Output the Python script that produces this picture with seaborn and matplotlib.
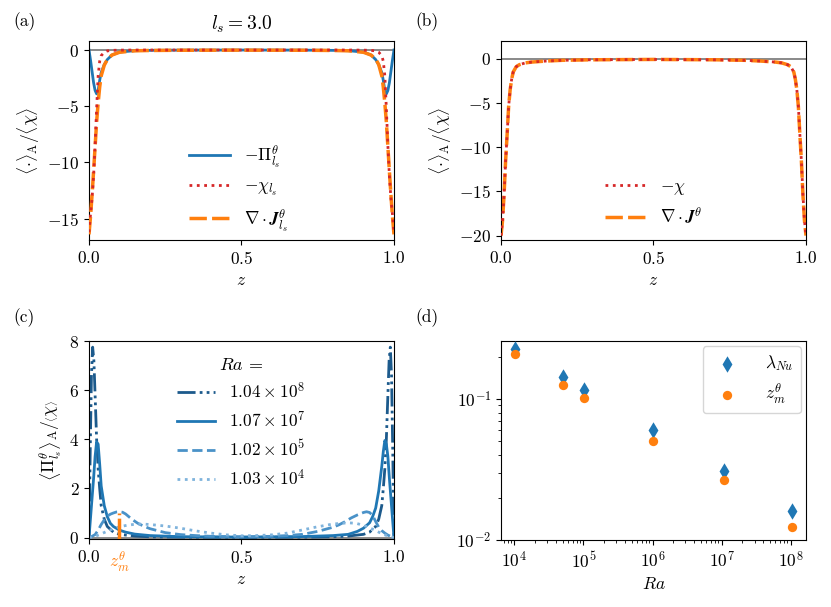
import matplotlib
matplotlib.use("Agg")
import matplotlib.pyplot as plt
import seaborn as sns

plt.rcParams.update({
    "font.family": "serif",
    "font.serif": ["cmr10"],
    "mathtext.fontset": "cm",
    "axes.formatter.use_mathtext": True,
    "font.size": 12.5,
    "axes.unicode_minus": True,
})

# ---- panel (a): l_s = 3.0 profiles ----
za = [0, 0.005, 0.01, 0.015, 0.02, 0.025, 0.03, 0.035, 0.04, 0.05, 0.06, 0.075, 0.1,
      0.15, 0.2, 0.3, 0.5, 0.7, 0.8, 0.85, 0.9, 0.925, 0.94, 0.95, 0.96, 0.965, 0.97,
      0.975, 0.98, 0.985, 0.99, 0.995, 1.0]
pi_ls = [0, -0.9, -1.9, -2.9, -3.6, -3.9, -3.6, -2.7, -2.0, -1.3, -0.85, -0.45, -0.18,
         -0.06, -0.03, -0.01, 0.0, -0.01, -0.03, -0.06, -0.18, -0.45, -0.85, -1.3, -2.0,
         -2.7, -3.6, -3.9, -3.6, -2.9, -1.9, -0.9, 0]
chi_ls = [-16.2, -14.6, -13.2, -11.2, -8.5, -5.2, -2.3, -1.0, -0.5, -0.2, -0.08, -0.03,
          -0.01, 0, 0, 0, 0, 0, 0, 0, -0.01, -0.03, -0.08, -0.2, -0.5, -1.0, -2.3, -5.2,
          -8.5, -11.2, -13.2, -14.6, -16.2]
divj_ls = [-16.4, -14.8, -12.9, -10.8, -8.6, -6.4, -4.7, -3.3, -2.3, -1.35, -0.85, -0.45,
           -0.2, -0.07, -0.04, -0.02, -0.01, -0.02, -0.04, -0.07, -0.2, -0.45, -0.8, -1.3,
           -2.3, -3.3, -4.7, -6.4, -8.6, -10.8, -12.9, -14.8, -16.4]

# ---- panel (b): full profiles ----
zb = [0, 0.005, 0.01, 0.015, 0.02, 0.025, 0.03, 0.035, 0.04, 0.05, 0.06, 0.08, 0.1, 0.15,
      0.2, 0.3, 0.5, 0.7, 0.8, 0.85, 0.9, 0.92, 0.94, 0.95, 0.96, 0.965, 0.97, 0.975,
      0.98, 0.985, 0.99, 0.995, 1.0]
chi = [-20.0, -18.3, -15.4, -11.6, -8.6, -5.4, -3.5, -2.3, -1.5, -0.9, -0.68, -0.47, -0.38,
       -0.26, -0.18, -0.12, -0.08, -0.12, -0.18, -0.26, -0.38, -0.47, -0.68, -0.9, -1.5,
       -2.3, -3.5, -5.4, -8.6, -11.6, -15.4, -18.3, -20.0]
divj = [-20.0, -18.3, -15.4, -11.6, -8.6, -5.4, -3.5, -2.3, -1.5, -0.9, -0.68, -0.47, -0.38,
        -0.26, -0.18, -0.12, -0.08, -0.12, -0.18, -0.26, -0.38, -0.47, -0.68, -0.9, -1.5,
        -2.3, -3.5, -5.4, -8.6, -11.6, -15.4, -18.3, -20.0]

# ---- panel (c): Pi profiles for several Ra ----
ra_labels = [r"$1.04\times10^{8}$", r"$1.07\times10^{7}$", r"$1.02\times10^{5}$", r"$1.03\times10^{4}$"]
z_ra8 = [0, 0.004, 0.008, 0.012, 0.016, 0.02, 0.025, 0.03, 0.035, 0.04, 0.05, 0.06, 0.08,
         0.1, 0.15, 0.2, 0.3, 0.5, 0.7, 0.8, 0.85, 0.9, 0.92, 0.94, 0.95, 0.96, 0.965,
         0.97, 0.975, 0.98, 0.984, 0.988, 0.992, 0.996, 1.0]
pi_ra8 = [0, 3.5, 6.6, 7.75, 7.2, 5.8, 4.0, 2.8, 2.0, 1.3, 0.75, 0.45, 0.22, 0.13, 0.06,
          0.03, 0.015, 0.01, 0.015, 0.03, 0.06, 0.13, 0.22, 0.45, 0.75, 1.3, 2.0, 2.8,
          4.0, 5.8, 7.2, 7.75, 6.6, 3.5, 0]
z_ra7 = [0, 0.005, 0.01, 0.015, 0.02, 0.025, 0.03, 0.035, 0.04, 0.05, 0.06, 0.07, 0.08,
         0.1, 0.12, 0.15, 0.2, 0.3, 0.5, 0.7, 0.8, 0.85, 0.88, 0.9, 0.92, 0.93, 0.94,
         0.95, 0.96, 0.965, 0.97, 0.975, 0.98, 0.985, 0.99, 0.995, 1.0]
pi_ra7 = [0, 0.8, 1.6, 2.4, 3.3, 3.9, 3.8, 3.0, 2.1, 1.3, 0.85, 0.58, 0.45, 0.3, 0.22,
          0.14, 0.08, 0.035, 0.02, 0.04, 0.08, 0.13, 0.25, 0.38, 0.6, 0.85, 1.2, 1.9,
          2.9, 3.5, 3.95, 3.8, 3.3, 2.4, 1.6, 0.8, 0]
z_ra5 = [0, 0.01, 0.02, 0.03, 0.04, 0.05, 0.06, 0.07, 0.08, 0.09, 0.1, 0.11, 0.12, 0.14,
         0.16, 0.18, 0.2, 0.25, 0.3, 0.35, 0.4, 0.5, 0.6, 0.65, 0.7, 0.75, 0.8, 0.82,
         0.84, 0.86, 0.88, 0.9, 0.91, 0.92, 0.93, 0.94, 0.95, 0.96, 0.97, 0.98, 0.99, 1.0]
pi_ra5 = [0, 0.05, 0.12, 0.3, 0.53, 0.72, 0.87, 0.95, 1.0, 1.04, 1.05, 1.03, 0.96, 0.75,
          0.58, 0.46, 0.36, 0.2, 0.12, 0.08, 0.05, 0.03, 0.05, 0.08, 0.13, 0.25, 0.42,
          0.52, 0.65, 0.8, 0.92, 1.02, 1.05, 1.02, 0.9, 0.65, 0.42, 0.28, 0.18, 0.1,
          0.04, 0]
z_ra4 = [0, 0.02, 0.04, 0.06, 0.08, 0.1, 0.125, 0.15, 0.175, 0.2, 0.25, 0.3, 0.35, 0.4,
         0.45, 0.5, 0.55, 0.6, 0.65, 0.7, 0.75, 0.8, 0.85, 0.875, 0.9, 0.92, 0.94, 0.96,
         0.98, 1.0]
pi_ra4 = [0, 0.05, 0.15, 0.26, 0.36, 0.44, 0.5, 0.54, 0.55, 0.53, 0.47, 0.38, 0.27, 0.18,
          0.11, 0.07, 0.08, 0.11, 0.18, 0.31, 0.44, 0.55, 0.6, 0.58, 0.5, 0.4, 0.28,
          0.16, 0.06, 0]
z_m_line = 0.1
z_m_top = 1.0

# ---- panel (d): scaling with Ra ----
ra = [1.03e4, 5.0e4, 1.02e5, 1.0e6, 1.07e7, 1.04e8]
lambda_nu = [0.226, 0.1425, 0.116, 0.0603, 0.031, 0.0161]
z_m = [0.208, 0.126, 0.101, 0.0501, 0.0265, 0.01236]

blue = "#1f77b4"
red = "#d62728"
orange = "#ff7f0e"
ra_colors = ["#1c5a8c", "#1f77b4", "#4a92c8", "#7fb3dc"]
ra_styles = [(0, (6.5, 1.5, 1, 1.5, 1, 1.5)), "-", "--", ":"]

fig = plt.figure(figsize=(8.31, 6.07), dpi=100)
ax_a = fig.add_axes([0.1071, 0.6046, 0.3670, 0.3278])
ax_b = fig.add_axes([0.6029, 0.6046, 0.3670, 0.3278])
ax_c = fig.add_axes([0.1071, 0.1120, 0.3670, 0.3262])
ax_d = fig.add_axes([0.6029, 0.1104, 0.3670, 0.3278])

ylab = r"$\langle{\cdot}\rangle_{\mathrm{A}}/\langle\chi\rangle$"

# (a)
ax_a.axhline(0, color="0.5", lw=1.3, zorder=1)
sns.lineplot(x=za, y=pi_ls, ax=ax_a, color=blue, lw=2, label=r"$-\Pi^\theta_{l_s}$",
             estimator=None, zorder=2)
sns.lineplot(x=za, y=divj_ls, ax=ax_a, color=orange, lw=2.5, linestyle=(0, (5, 1.5)),
             label=r"$\mathbf{\nabla}\cdot\mathbfit{J}^\theta_{l_s}$", estimator=None, zorder=3)
sns.lineplot(x=za, y=chi_ls, ax=ax_a, color=red, lw=2, linestyle=":",
             label=r"$-\chi_{l_s}$", estimator=None, zorder=4)
h, l = ax_a.get_legend_handles_labels()
ax_a.legend([h[0], h[2], h[1]], [l[0], l[2], l[1]], loc="center",
            bbox_to_anchor=(0.49, 0.26), frameon=False, handlelength=2.4)
ax_a.set_xlim(0, 1)
ax_a.set_ylim(-16.9, 0.8)
ax_a.set_yticks([0, -5, -10, -15])
ax_a.set_xticks([0, 0.5, 1.0])
ax_a.set_xlabel(r"$z$")
ax_a.set_ylabel(ylab)
ax_a.set_title(r"$l_s = 3.0$", fontsize=14, pad=8)

# (b)
ax_b.axhline(0, color="0.5", lw=1.3, zorder=1)
sns.lineplot(x=zb, y=divj, ax=ax_b, color=orange, lw=2.5, linestyle=(0, (5, 1.5)),
             label=r"$\mathbf{\nabla}\cdot\mathbfit{J}^\theta$", estimator=None, zorder=2)
sns.lineplot(x=zb, y=chi, ax=ax_b, color=red, lw=2, linestyle=":",
             label=r"$-\chi$", estimator=None, zorder=3)
h, l = ax_b.get_legend_handles_labels()
ax_b.legend([h[1], h[0]], [l[1], l[0]], loc="center", bbox_to_anchor=(0.5, 0.19),
            frameon=False, handlelength=2.4)
ax_b.set_xlim(0, 1)
ax_b.set_ylim(-20.5, 2.0)
ax_b.set_yticks([0, -5, -10, -15, -20])
ax_b.set_xticks([0, 0.5, 1.0])
ax_b.set_xlabel(r"$z$")
ax_b.set_ylabel(ylab)

# (c)
ax_c.axhline(0, color="0.5", lw=1.3, zorder=1)
c_z = [z_ra8, z_ra7, z_ra5, z_ra4]
c_v = [pi_ra8, pi_ra7, pi_ra5, pi_ra4]
for zz, vv, col, ls, lab in zip(c_z, c_v, ra_colors, ra_styles, ra_labels):
    sns.lineplot(x=zz, y=vv, ax=ax_c, color=col, lw=2, linestyle=ls, label=lab,
                 estimator=None)
ax_c.plot([z_m_line, z_m_line], [-0.06, z_m_top], color=orange, lw=2.5,
          linestyle=(0, (6, 1)), zorder=5)
ax_c.legend(loc="upper center", bbox_to_anchor=(0.5, 1.0), frameon=False,
            handlelength=2.2, title=r"$Ra\,=$", title_fontsize=13)
ax_c.set_xlim(0, 1)
ax_c.set_ylim(-0.06, 8)
ax_c.set_yticks([0, 2, 4, 6, 8])
ax_c.set_xticks([0, 0.5, 1.0])
ax_c.set_xlabel(r"$z$")
ax_c.set_ylabel(r"$\left\langle \Pi^\theta_{l_s} \right\rangle_{\mathrm{A}} / \left\langle \chi \right\rangle$")
ax_c.text(z_m_line, -0.05, r"$z_m^\theta$", color=orange, ha="center", va="top",
          transform=ax_c.get_xaxis_transform())

# (d)
sns.scatterplot(x=ra, y=lambda_nu, ax=ax_d, marker="d", s=70, color=blue,
                linewidth=0, label=r"$\lambda_{Nu}$", zorder=3)
sns.scatterplot(x=ra, y=z_m, ax=ax_d, marker="o", s=45, color=orange,
                linewidth=0, label=r"$z_m^\theta$", zorder=3)
ax_d.set_xscale("log")
ax_d.set_yscale("log")
ax_d.set_xlim(6.4e3, 1.67e8)
ax_d.set_ylim(0.01, 0.258)
ax_d.set_xlabel(r"$Ra$")
ax_d.legend(loc="upper right", handletextpad=1.2, borderaxespad=0.3)

fig.text(0.016, 1 - 22 / 607, "(a)", va="center", ha="left")
fig.text(0.4995, 1 - 22 / 607, "(b)", va="center", ha="left")
fig.text(0.016, 1 - 318 / 607, "(c)", va="center", ha="left")
fig.text(0.4995, 1 - 318 / 607, "(d)", va="center", ha="left")

fig.savefig("out.png", dpi=100)
